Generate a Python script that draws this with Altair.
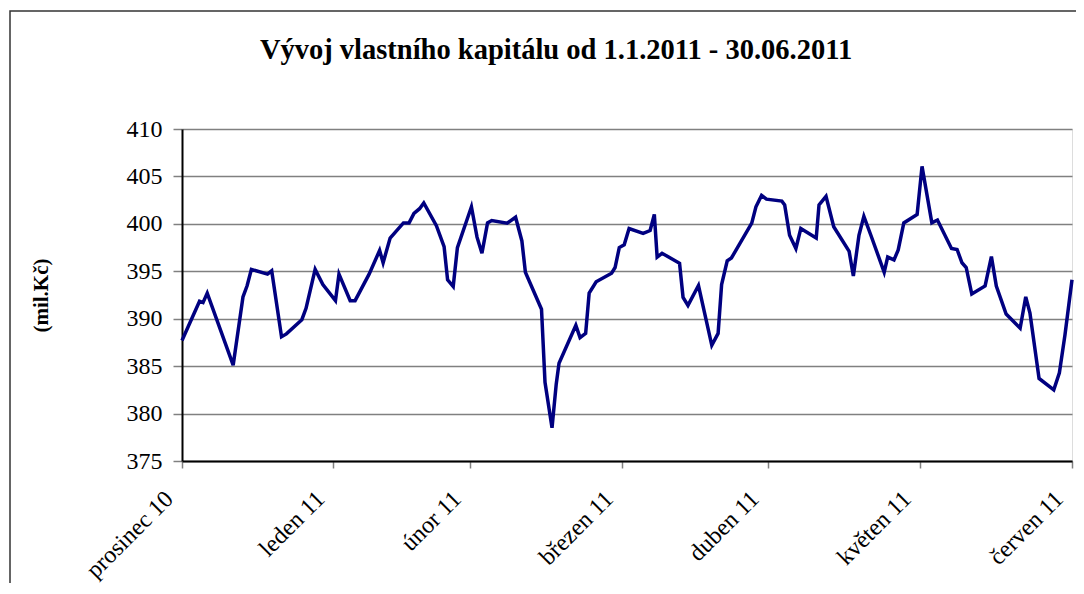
import altair as alt
import pandas as pd

# trading-day position (0 = first point) and equity value in mil. Kč
pozice = [0, 2.5, 3.0, 3.6, 7.3, 8.7, 9.3, 9.9, 12.2, 12.8, 14.2, 14.9, 17.1, 17.7, 19.0, 20.1,
          21.9, 22.4, 24.0, 24.7, 26.7, 28.2, 28.7, 29.7, 31.6, 32.4, 33.1, 33.9, 34.5, 36.3,
          37.4, 37.9, 38.7, 39.3, 41.3, 42.1, 42.8, 43.6, 44.2, 46.4, 47.6, 48.5, 49.0, 51.3,
          51.8, 52.8, 53.4, 53.8, 56.2, 56.8, 57.6, 58.1, 59.1, 61.3, 61.8, 62.4, 63.1, 63.8,
          65.8, 66.8, 67.4, 67.8, 68.5, 71.0, 71.5, 72.2, 73.7, 75.6, 76.5, 77.0, 77.8, 78.4,
          81.3, 81.9, 82.7, 83.4, 85.6, 86.0, 86.7, 87.6, 88.3, 90.5, 90.9, 91.9, 93.0, 95.2,
          95.8, 96.6, 97.3, 98.3, 100.2, 100.7, 101.6, 102.2, 103.0, 104.9, 105.6, 107.0, 107.8,
          109.8, 110.6, 111.3, 111.9, 112.7, 114.6, 115.5, 116.2, 117.6, 119.6, 120.4, 121.0,
          122.3, 124.4, 125.2, 126.0, 127.0]
hodnota = [387.7, 391.85, 391.7, 392.7, 385.1, 392.3, 393.5, 395.2, 394.7, 395.05, 388.1, 388.4,
           389.9, 391.1, 395.2, 393.6, 391.9, 394.7, 391.9, 391.9, 394.7, 397.2, 395.9, 398.5,
           400.1, 400.1, 401.1, 401.6, 402.2, 399.8, 397.6, 394.1, 393.4, 397.5, 401.8, 398.6,
           396.9, 400.1, 400.35, 400.07, 400.7, 398.2, 394.9, 391.0, 383.3, 378.5, 383.1, 385.3,
           389.3, 388.0, 388.45, 392.7, 393.9, 394.8, 395.4, 397.5, 397.8, 399.5, 399.0, 399.3,
           401.0, 396.5, 396.9, 395.85, 392.25, 391.4, 393.5, 387.2, 388.45, 393.6, 396.1, 396.4,
           400.07, 401.8, 403.0, 402.6, 402.4, 402.0, 398.8, 397.4, 399.5, 398.5, 402.0, 402.9,
           399.7, 397.1, 394.5, 398.8, 400.8, 398.8, 394.9, 396.5, 396.2, 397.25, 400.1, 401.0,
           406.06, 400.1, 400.4, 397.4, 397.3, 395.9, 395.4, 392.6, 393.45, 396.55, 393.45, 390.5,
           389.0, 392.3, 390.6, 383.7, 382.5, 384.3, 388.3, 394.1]

mesice = ["prosinec 10", "leden 11", "únor 11", "březen 11", "duben 11", "květen 11", "červen 11"]
tick_pos = [0, 21.6, 41.1, 62.8, 83.6, 105.3, 127]
y_ticks = [375, 380, 385, 390, 395, 400, 405, 410]
titulek = "Vývoj vlastního kapitálu od 1.1.2011 - 30.06.2011"

df = pd.DataFrame({"pozice": pozice, "hodnota": hodnota})

expr = "'" + mesice[-1] + "'"
for i in reversed(range(len(tick_pos) - 1)):
    mid = (tick_pos[i] + tick_pos[i + 1]) / 2
    expr = f"datum.value < {mid} ? '{mesice[i]}' : ({expr})"

FONT = "Liberation Serif"

line = alt.Chart(df).mark_line(color="#000080", strokeWidth=3.5).encode(
    x=alt.X("pozice:Q",
            scale=alt.Scale(domain=[0, 127], nice=False, zero=False),
            axis=alt.Axis(values=tick_pos, labelExpr=expr, labelAngle=-45, labelAlign="right",
                          labelBaseline="alphabetic", labelFontSize=24, labelFont=FONT,
                          labelColor="black", labelFlush=False, labelOverlap=False,
                          labelPadding=32, labelOffset=-8, tickColor="#808080", tickSize=7,
                          tickWidth=1.5, domainColor="black", domainWidth=2, grid=False,
                          title=None)),
    y=alt.Y("hodnota:Q",
            scale=alt.Scale(domain=[375, 410], nice=False, zero=False),
            axis=alt.Axis(values=y_ticks, labelFontSize=24, labelFont=FONT, labelColor="black",
                          labelPadding=11, tickColor="#808080", tickSize=9, tickWidth=1.5,
                          domainColor="black", domainWidth=2, grid=True, gridColor="#808080",
                          gridWidth=1.5, title="(mil.Kč)", titleFont=FONT, titleFontSize=21,
                          titleFontWeight="bold", titleColor="black", titleX=-141, titleY=166,
                          titleBaseline="middle", titleAngle=-90)),
)

frame = alt.Chart(pd.DataFrame({"a": [0]})).mark_rect(
    fillOpacity=0, stroke="#333333", strokeWidth=1.5
).encode(x=alt.value(-172), x2=alt.value(930), y=alt.value(-118), y2=alt.value(480))

title_text = alt.Chart(pd.DataFrame({"t": [titulek]})).mark_text(
    font=FONT, fontSize=28.5, fontWeight="bold", color="black", align="center",
    baseline="alphabetic"
).encode(text="t:N", x=alt.value(374), y=alt.value(-70))

chart = alt.layer(frame, line, title_text).properties(
    width=890,
    height=332,
    autosize="none",
    padding={"left": 174, "top": 121, "right": 4, "bottom": 122},
).configure_view(
    stroke="black", strokeWidth=2
).configure_axis(
    labelFont=FONT, titleFont=FONT
).configure(background="white", font=FONT)

chart.save("out.html", embed_options={"renderer": "svg", "actions": False})
